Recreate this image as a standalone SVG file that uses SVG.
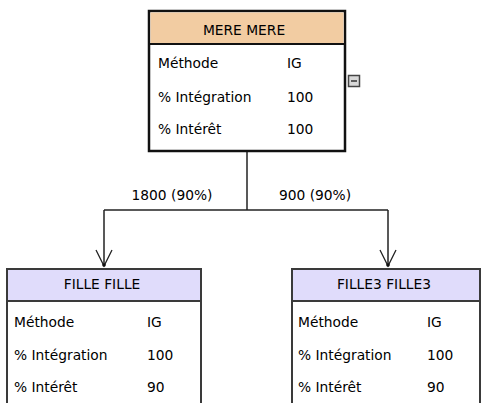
<svg xmlns="http://www.w3.org/2000/svg" width="482" height="403" viewBox="0 0 482 403">
<defs>
<style>
text{font-family:"DejaVu Sans","Liberation Sans",sans-serif;font-size:13.8px;fill:#000}
.hd{text-anchor:middle}
.box{fill:#fff}
.top{stroke:#111;stroke-width:2.5}
.sub{stroke:#3a3a3a;stroke-width:2}
.conn{fill:none;stroke:#222;stroke-width:1.5}
</style>
<marker id="arr" markerWidth="20" markerHeight="20" viewBox="-10 -18 20 20" refX="0" refY="0" markerUnits="userSpaceOnUse" orient="0">
<polyline points="-8,-16 0,0 8,-16" fill="none" stroke="#222" stroke-width="1.3"/>
<circle cx="0" cy="-1" r="1.8" fill="#111"/>
</marker>
</defs>
<rect width="482" height="403" fill="#fff"/>
<g id="connectors">
<path class="conn" d="M247,151 V210"/>
<path class="conn" d="M104,210 H388"/>
<path class="conn" d="M104,210 V266" marker-end="url(#arr)"/>
<path class="conn" d="M388,210 V266" marker-end="url(#arr)"/>
<text x="172" y="200" class="hd">1800 (90%)</text>
<text x="315" y="200" class="hd">900 (90%)</text>
</g>
<g id="mere">
<rect x="149" y="11" width="196" height="140" class="box top"/>
<rect x="150.5" y="12.5" width="193" height="31" fill="#f2cca2"/>
<line x1="149" y1="44" x2="345" y2="44" stroke="#111" stroke-width="2"/>
<text x="244" y="35" class="hd">MERE MERE</text>
<text x="158" y="68">Méthode</text><text x="287" y="68">IG</text>
<text x="158" y="102">% Intégration</text><text x="287" y="102">100</text>
<text x="158" y="134">% Intérêt</text><text x="287" y="134">100</text>
<rect x="348.5" y="75.5" width="11" height="11" fill="#d8d8d8" stroke="#444" stroke-width="1.5"/>
<line x1="351" y1="81" x2="357" y2="81" stroke="#333" stroke-width="1.5"/>
</g>
<g id="fille">
<rect x="7" y="269" width="194" height="150" class="box sub"/>
<rect x="8" y="270" width="192" height="31" fill="#e0dcfb"/>
<line x1="7" y1="301" x2="201" y2="301" stroke="#3a3a3a" stroke-width="2"/>
<text x="102" y="289" class="hd">FILLE FILLE</text>
<text x="14" y="327">Méthode</text><text x="147" y="327">IG</text>
<text x="14" y="360">% Intégration</text><text x="147" y="360">100</text>
<text x="14" y="392">% Intérêt</text><text x="147" y="392">90</text>
</g>
<g id="fille3">
<rect x="292" y="269" width="188" height="150" class="box sub"/>
<rect x="293" y="270" width="186" height="31" fill="#e0dcfb"/>
<line x1="292" y1="301" x2="480" y2="301" stroke="#3a3a3a" stroke-width="2"/>
<text x="384" y="289" class="hd">FILLE3 FILLE3</text>
<text x="298" y="327">Méthode</text><text x="427" y="327">IG</text>
<text x="298" y="360">% Intégration</text><text x="427" y="360">100</text>
<text x="298" y="392">% Intérêt</text><text x="427" y="392">90</text>
</g>
</svg>
